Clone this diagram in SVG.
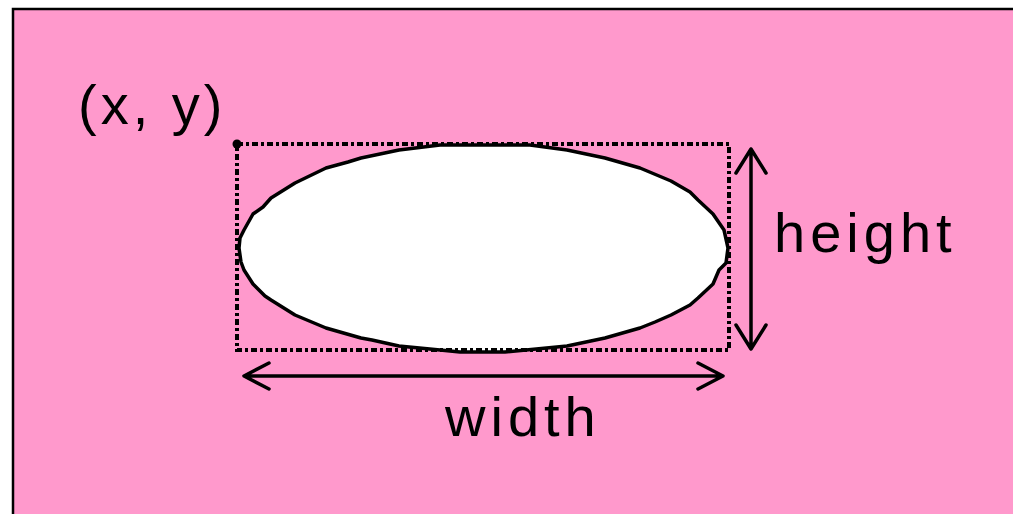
<svg xmlns="http://www.w3.org/2000/svg" width="1013" height="514" viewBox="0 0 1013 514">
<style>
.lbl{font-family:"Liberation Sans",Arial,sans-serif;font-size:56px;fill:#000;letter-spacing:5px}
.arr{fill:none;stroke:#000;stroke-width:3.5;stroke-linecap:round;stroke-linejoin:round}
</style>
<rect x="0" y="0" width="1013" height="514" fill="#fff"/>
<rect id="background" x="13" y="9" width="1010" height="520" fill="#FF99CC" stroke="#000" stroke-width="2.5"/>
<g id="ellipse">
<path d="M728,248 L726,263 L719,270 L713,284 L698,298 L690,305 L671,315 L655,322 L640,328 L605,338 L567,346 L526,350 L505,352 L460,352 L440,350 L399,346 L372,340 L361,338 L326,328 L295,315 L271,300 L265,296 L253,284 L244,270 L241,262 L239,248 L240,238 L244,230 L253,214 L263,207 L271,198 L295,183 L326,168 L348,162 L361,158 L399,150 L440,145 L530,145 L567,150 L605,158 L640,168 L671,181 L690,192 L698,200 L713,214 L724,230 Z" fill="#fff" stroke="#000" stroke-width="3.5" stroke-linejoin="round"/>
</g>
<g id="bounds">
<rect x="237" y="144" width="492" height="206" fill="none" stroke="#000" stroke-width="4" stroke-dasharray="6,3,3,3"/>
<circle cx="237" cy="144" r="4.5" fill="#000"/>
</g>
<g id="connectors">
<path class="arr" d="M751,149 L751,349 M736,173 L751,149 L766,173 M736,325 L751,349 L766,325"/>
<path class="arr" d="M244,376 L723,376 M269,363 L244,376 L269,389 M698,363 L723,376 L698,389"/>
</g>
<g id="labels">
<text class="lbl" x="78" y="124" style="letter-spacing:4px">(x, y)</text>
<text class="lbl" x="774" y="252">height</text>
<text class="lbl" x="445" y="436">width</text>
</g>
</svg>
